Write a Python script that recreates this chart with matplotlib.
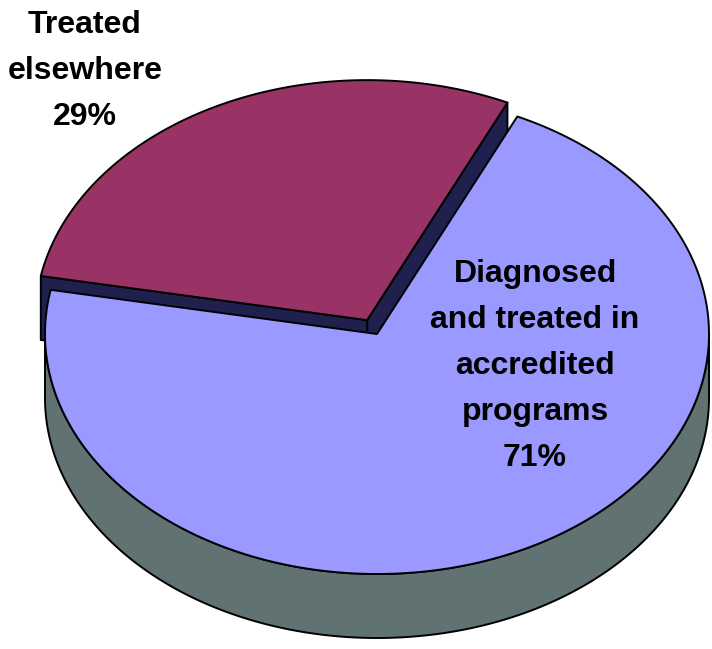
import matplotlib
matplotlib.use("Agg")
import matplotlib.pyplot as plt
from matplotlib.patches import Polygon
import numpy as np

# data (counter-clockwise from the start angle)
labels = ["Treated\nelsewhere", "Diagnosed\nand treated in\naccredited\nprograms"]
values = [29, 71]
top_colors = ["#993366", "#9999FF"]
side_colors = ["#20204E", "#607272"]
explode = [0.065, 0.0]

# pie geometry, in pixels
cx, cy = 377, 334
rx, ry = 332, 240
depth = 64
start = 65.0

fig = plt.figure(figsize=(7.12, 6.49), dpi=100)
ax = fig.add_axes([0, 0, 1, 1])
ax.set_xlim(0, 712)
ax.set_ylim(649, 0)
ax.axis("off")


def pt(t, off, z=0.0):
    r = np.radians(t)
    return (cx + off[0] + rx * np.cos(r), cy + off[1] - ry * np.sin(r) + z)


def poly(pts, color):
    ax.add_patch(Polygon(pts, closed=True, fc=color, ec="black", lw=1.4,
                         joinstyle="round"))


fracs = np.array(values) / sum(values)
spans = fracs * 360
t0s = start + np.concatenate([[0], np.cumsum(spans)[:-1]])

for i in range(len(values)):
    t0, t1 = t0s[i], t0s[i] + spans[i]
    mid = np.radians((t0 + t1) / 2)
    off = (explode[i] * rx * np.cos(mid), -explode[i] * ry * np.sin(mid))
    c = (cx + off[0], cy + off[1])

    # radial faces
    if np.cos(np.radians(t0)) > 0:
        p = pt(t0, off)
        poly([c, p, (p[0], p[1] + depth), (c[0], c[1] + depth)], side_colors[i])
    if np.cos(np.radians(t1)) < 0:
        p = pt(t1, off)
        poly([c, p, (p[0], p[1] + depth), (c[0], c[1] + depth)], side_colors[i])

    # outer wall (front half only)
    ts = np.linspace(t0, t1, 400)
    front = ts[np.sin(np.radians(ts)) < 0]
    if len(front) > 1:
        topp = [pt(t, off) for t in front]
        bot = [pt(t, off, depth) for t in front[::-1]]
        poly(topp + bot, side_colors[i])

    # top surface
    poly([c] + [pt(t, off) for t in ts], top_colors[i])

font = dict(family=["Liberation Sans Narrow", "DejaVu Sans Condensed",
                    "Liberation Sans"],
            weight="bold", fontsize=23, color="black", ha="center",
            va="center", linespacing=1.7)
pcts = [f"{f * 100:.0f}%" for f in fracs]
ax.text(85, 71, labels[0] + "\n" + pcts[0], **font)
ax.text(535, 366, labels[1] + "\n" + pcts[1], **font)

fig.savefig("out.png", dpi=100)
